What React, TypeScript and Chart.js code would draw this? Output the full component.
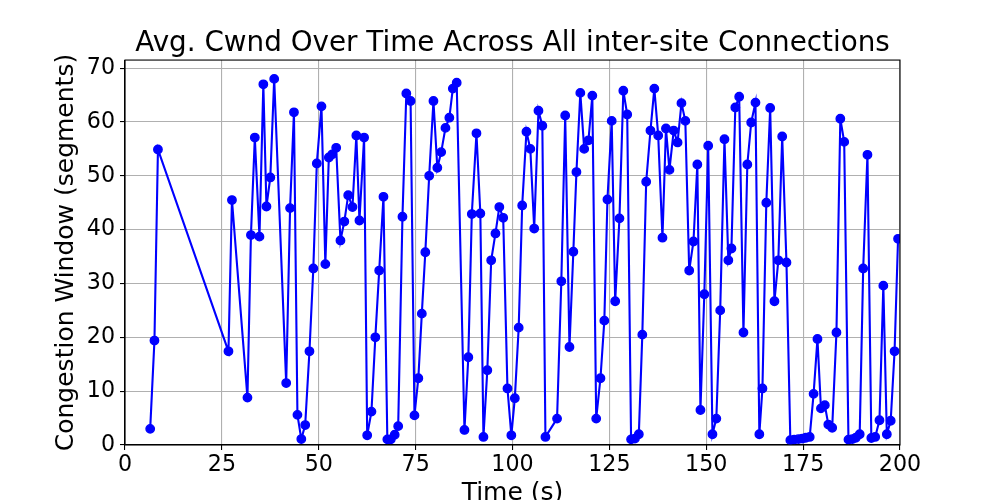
import React, { useEffect, useRef } from 'react';
import { Chart, registerables } from 'chart.js';

Chart.register(...registerables);

const TITLE = 'Avg. Cwnd Over Time Across All inter-site Connections';
const X_LABEL = 'Time (s)';
const Y_LABEL = 'Congestion Window (segments)';

const times = [
  6.5, 7.6, 8.5, 26.7, 27.6, 31.6, 32.5, 33.5, 34.7, 35.7, 36.5, 37.5, 38.5,
  41.6, 42.6, 43.6, 44.5, 45.5, 46.5, 47.6, 48.6, 49.5, 50.7, 51.7, 52.6, 53.5,
  54.5, 55.6, 56.6, 57.6, 58.7, 59.7, 60.5, 61.7, 62.5, 63.6, 64.6, 65.6, 66.7,
  67.7, 68.6, 69.6, 70.5, 71.6, 72.6, 73.7, 74.7, 75.7, 76.6, 77.5, 78.5, 79.6,
  80.6, 81.6, 82.7, 83.7, 84.6, 85.6, 87.6, 88.6, 89.5, 90.7, 91.7, 92.5, 93.5,
  94.5, 95.6, 96.6, 97.6, 98.7, 99.7, 100.6, 101.6, 102.5, 103.6, 104.6, 105.6,
  106.7, 107.7, 108.5, 111.5, 112.6, 113.6, 114.7, 115.7, 116.5, 117.5, 118.5,
  119.6, 120.6, 121.6, 122.7, 123.7, 124.5, 125.6, 126.5, 127.6, 128.6, 129.6,
  130.6, 131.6, 132.6, 133.5, 134.5, 135.6, 136.6, 137.6, 138.7, 139.6, 140.5,
  141.6, 142.6, 143.6, 144.6, 145.6, 146.7, 147.7, 148.5, 149.5, 150.5, 151.6,
  152.6, 153.6, 154.7, 155.7, 156.5, 157.5, 158.5, 159.6, 160.6, 161.6, 162.7,
  163.7, 164.5, 165.5, 166.5, 167.6, 168.6, 169.6, 170.7, 171.7, 172.7, 173.8,
  174.8, 175.7, 176.7, 177.7, 178.7, 179.6, 180.6, 181.5, 182.5, 183.6, 184.6,
  185.6, 186.7, 187.7, 188.6, 189.6, 190.5, 191.6, 192.6, 193.6, 194.7, 195.7,
  196.6, 197.6, 198.6, 199.5,
];

const cwnd = [
  3.0, 19.4, 54.9, 17.4, 45.5, 8.8, 39.0, 57.1, 38.7, 67.0, 44.3, 49.7, 68.0,
  11.5, 44.0, 61.8, 5.6, 1.1, 3.7, 17.4, 32.8, 52.3, 62.9, 33.6, 53.4, 54.0,
  55.2, 38.0, 41.5, 46.4, 44.2, 57.5, 41.7, 57.1, 1.8, 6.2, 20.0, 32.4, 46.1,
  1.05, 1.05, 1.9, 3.5, 42.4, 65.3, 63.9, 5.5, 12.4, 24.4, 35.8, 50.0, 63.9,
  51.5, 54.4, 58.9, 60.8, 66.2, 67.3, 2.8, 16.3, 42.9, 57.9, 43.0, 1.5, 13.9,
  34.3, 39.3, 44.2, 42.2, 10.5, 1.8, 8.7, 21.8, 44.5, 58.2, 55.0, 40.2,
  62.1, 59.3, 1.5, 4.9, 30.4, 61.2, 18.2, 35.9, 50.7, 65.4, 55.0,
  56.6, 64.9, 4.9, 12.4, 23.1, 45.6, 60.2, 26.7, 42.1, 65.8, 61.4,
  1.05, 1.2, 2.0, 20.5, 48.9, 58.4, 66.2, 57.5, 38.5, 58.8, 51.1,
  58.4, 56.2, 63.5, 60.2, 32.4, 37.8, 52.1, 6.5, 28.0, 55.6, 2.0,
  4.9, 25.0, 56.8, 34.3, 36.5, 62.7, 64.7, 20.9, 52.1, 59.9, 63.6,
  2.0, 10.5, 45.0, 62.6, 26.7, 34.3, 57.3, 33.9, 0.9, 1.0, 1.1,
  1.2, 1.35, 1.5, 9.5, 19.7, 6.8, 7.4, 3.8, 3.2, 20.9, 60.6,
  56.3, 1.0, 1.1, 1.35, 2.0, 32.8, 53.9, 1.3, 1.5, 4.6, 29.6,
  2.0, 4.5, 17.4, 38.3,
];

const FONT = 'DejaVu Sans';

export default function App() {
  const ref = useRef<HTMLCanvasElement>(null);

  useEffect(() => {
    const canvas = ref.current;
    if (!canvas) return;
    const points = times.map((t, i) => ({ x: t, y: cwnd[i] }));

    const frame = {
      id: 'frame',
      afterDatasetsDraw(chart: any) {
        const { ctx, chartArea } = chart;
        const { left, top, right, bottom } = chartArea;
        ctx.save();
        ctx.strokeStyle = '#000';
        ctx.lineWidth = 1.1;
        ctx.strokeRect(left, top, right - left, bottom - top);
        ctx.restore();
      },
    };

    const chart = new Chart(canvas, {
      type: 'line',
      data: {
        datasets: [
          {
            data: points,
            borderColor: '#0000ff',
            backgroundColor: '#0000ff',
            borderWidth: 2.1,
            pointRadius: 4.2,
            pointBorderWidth: 1.4,
            pointBackgroundColor: '#0000ff',
            pointBorderColor: '#0000ff',
            tension: 0,
            fill: false,
          },
        ],
      },
      options: {
        responsive: false,
        animation: false,
        devicePixelRatio: 1,
        layout: { padding: { left: 0, top: 0, right: 100, bottom: 0 } },
        plugins: {
          legend: { display: false },
          tooltip: { enabled: false },
          title: {
            display: true,
            text: TITLE,
            fullSize: false,
            color: '#000',
            font: { family: FONT, size: 27.8, weight: 'normal' },
            padding: { top: 26.7, bottom: 0 },
          },
        },
        scales: {
          x: {
            type: 'linear',
            min: 0,
            max: 200,
            ticks: {
              stepSize: 25,
              color: '#000',
              padding: 2,
              includeBounds: false,
              font: { family: FONT, size: 22.2 },
            },
            grid: {
              color: '#b0b0b0',
              lineWidth: 1.1,
              tickColor: '#000',
              tickLength: 5,
              tickWidth: 1.1,
            },
            border: { color: '#000', width: 1.1 },
            title: {
              display: true,
              text: X_LABEL,
              color: '#000',
              font: { family: FONT, size: 25 },
              padding: { top: 0, bottom: -8.6 },
            },
            afterFit(s: any) {
              s.height = 55;
              s.paddingLeft = 0;
              s.paddingRight = 0;
            },
          },
          y: {
            type: 'linear',
            min: 0,
            max: 71.5,
            ticks: {
              stepSize: 10,
              color: '#000',
              padding: 5,
              includeBounds: false,
              font: { family: FONT, size: 22.2 },
            },
            grid: {
              color: '#b0b0b0',
              lineWidth: 1.1,
              tickColor: '#000',
              tickLength: 5,
              tickWidth: 1.1,
            },
            border: { color: '#000', width: 1.1 },
            title: {
              display: true,
              text: Y_LABEL,
              color: '#000',
              font: { family: FONT, size: 25 },
              padding: { top: 51, bottom: 0 },
            },
            afterFit(s: any) {
              s.width = 125;
              s.paddingTop = 0;
              s.paddingBottom = 0;
            },
          },
        },
      },
      plugins: [frame],
    } as any);

    return () => chart.destroy();
  }, []);

  return (
    <div style={{ position: 'fixed', left: 0, top: 0, width: 1000, height: 500, background: '#fff' }}>
      <canvas ref={ref} width={1000} height={500} style={{ display: 'block', width: 1000, height: 500 }} />
    </div>
  );
}
